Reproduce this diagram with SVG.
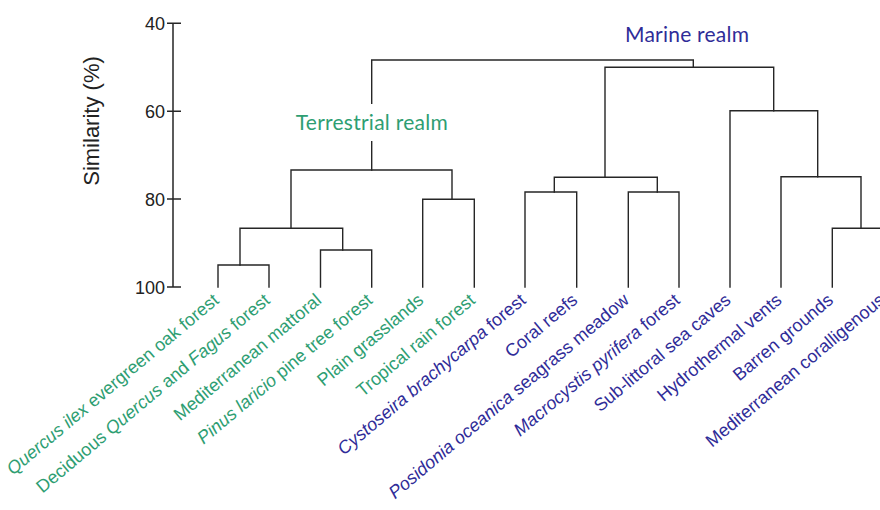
<svg xmlns="http://www.w3.org/2000/svg" width="880" height="510" viewBox="0 0 880 510">
<style>
.ln{fill:none;stroke:#262626;stroke-width:1.4;stroke-linecap:square}
.ax{fill:none;stroke:#262626;stroke-width:1.5}
.tk{font-family:"Liberation Sans",Arial,sans-serif;font-size:18px;fill:#222;text-anchor:end}
.lf{font-family:"Liberation Sans",Arial,sans-serif;font-size:18px;text-anchor:end}
.g{fill:#2e9e72}
.b{fill:#2f2c98}
.realm{font-family:Lato,"Open Sans",sans-serif;font-size:21px;text-anchor:middle}
.i{font-style:italic}
</style>
<rect width="880" height="510" fill="#fff"/>
<g id="axis">
<path class="ax" d="M173,23.3 V287 M167,23.3 H181 M167,111.2 H181 M167,199.1 H181 M167,287 H181"/>
<text class="tk" x="165" y="29.8">40</text>
<text class="tk" x="165" y="117.7">60</text>
<text class="tk" x="165" y="205.6">80</text>
<text class="tk" x="165" y="293.5">100</text>
<text transform="translate(99,121) rotate(-90)" font-family="Liberation Sans, Arial, sans-serif" font-size="22" fill="#222" text-anchor="middle">Similarity (%)</text>
</g>
<g id="connectors">
<path class="ln" d="M218,287 V265 H269 V287"/>
<path class="ln" d="M320.5,287 V250 H371.7 V287"/>
<path class="ln" d="M240,265 V228.3 H342.7 V250"/>
<path class="ln" d="M291,228.3 V170 H452 V199.3"/>
<path class="ln" d="M422.7,287 V199.3 H474.3 V287"/>
<path class="ln" d="M371.7,170 V141.7"/>
<path class="ln" d="M371.7,103.3 V60 H693.3 V67.3"/>
<path class="ln" d="M605,177.3 V67.3 H773.7 V110.7"/>
<path class="ln" d="M525,287 V192 H576.7 V287"/>
<path class="ln" d="M628.3,287 V192 H679 V287"/>
<path class="ln" d="M554.3,192 V177.3 H657.3 V192"/>
<path class="ln" d="M730,287 V110.7 H817.7 V176.7"/>
<path class="ln" d="M781,287 V176.7 H861 V228.3"/>
<path class="ln" d="M832.3,287 V228.3 H884 V287"/>
</g>
<g id="terrestrial-realm"><text class="realm g" x="371.7" y="130" textLength="152">Terrestrial realm</text></g>
<g id="marine-realm"><text class="realm b" x="687" y="41.7" textLength="124">Marine realm</text></g>
<g id="leaf-quercus-ilex"><text class="lf g" transform="translate(220,302) rotate(-40)"><tspan class="i">Quercus ilex</tspan> evergreen oak forest</text></g>
<g id="leaf-deciduous"><text class="lf g" transform="translate(271,302) rotate(-40)">Deciduous <tspan class="i">Quercus</tspan> and <tspan class="i">Fagus</tspan> forest</text></g>
<g id="leaf-mattoral"><text class="lf g" transform="translate(322.5,302) rotate(-40)">Mediterranean mattoral</text></g>
<g id="leaf-pinus"><text class="lf g" transform="translate(373.7,302) rotate(-40)"><tspan class="i">Pinus laricio</tspan> pine tree forest</text></g>
<g id="leaf-grasslands"><text class="lf g" transform="translate(424.7,302) rotate(-40)">Plain grasslands</text></g>
<g id="leaf-rainforest"><text class="lf g" transform="translate(476.3,302) rotate(-40)">Tropical rain forest</text></g>
<g id="leaf-cystoseira"><text class="lf b" transform="translate(527,302) rotate(-40)"><tspan class="i">Cystoseira brachycarpa</tspan> forest</text></g>
<g id="leaf-coral"><text class="lf b" transform="translate(578.7,302) rotate(-40)">Coral reefs</text></g>
<g id="leaf-posidonia"><text class="lf b" transform="translate(630.3,302) rotate(-40)"><tspan class="i">Posidonia oceanica</tspan> seagrass meadow</text></g>
<g id="leaf-macrocystis"><text class="lf b" transform="translate(681,302) rotate(-40)"><tspan class="i">Macrocystis pyrifera</tspan> forest</text></g>
<g id="leaf-caves"><text class="lf b" transform="translate(732,302) rotate(-40)">Sub-littoral sea caves</text></g>
<g id="leaf-vents"><text class="lf b" transform="translate(783,302) rotate(-40)">Hydrothermal vents</text></g>
<g id="leaf-barren"><text class="lf b" transform="translate(834.3,302) rotate(-40)">Barren grounds</text></g>
<g id="leaf-coralligenous"><text class="lf b" transform="translate(886,302) rotate(-40)">Mediterranean coralligenous</text></g>
</svg>
